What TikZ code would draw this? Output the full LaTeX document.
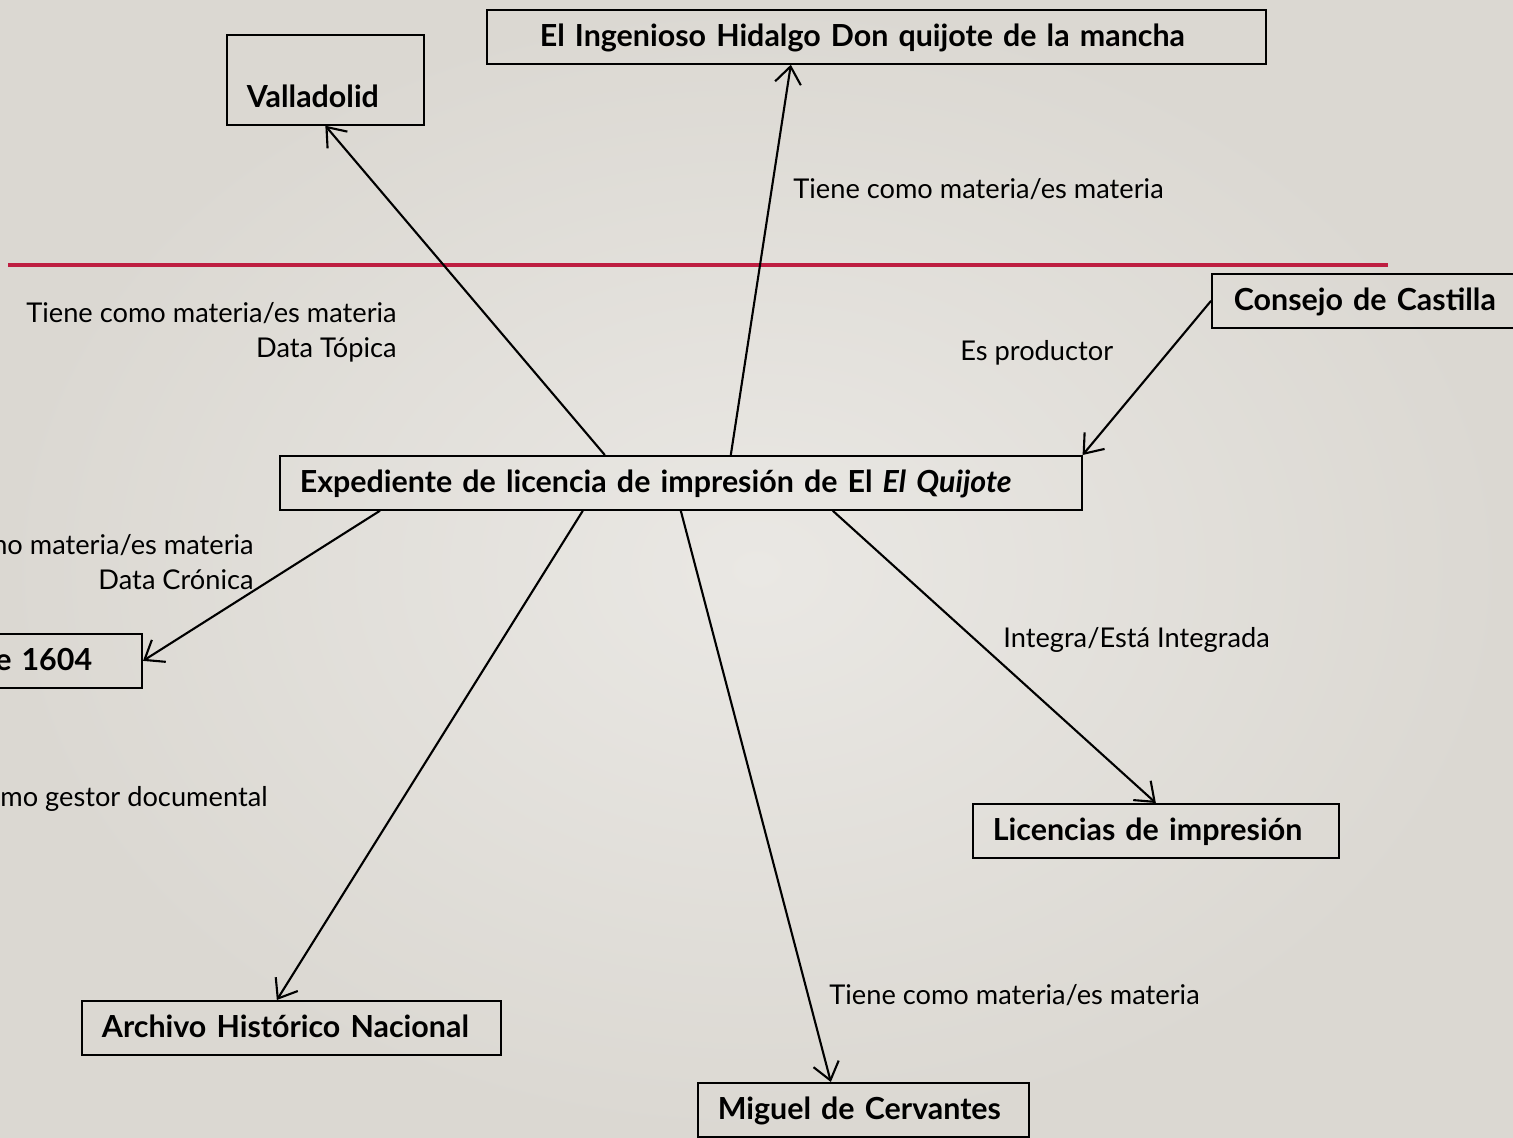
\documentclass[tikz,border=0pt]{standalone}
\usepackage{fontspec}
\setmainfont{Lato}
\usetikzlibrary{arrows.meta}
\definecolor{fondo}{RGB}{234,232,228}
\definecolor{borde}{RGB}{219,216,210}
\definecolor{rojo}{RGB}{190,30,65}

\begin{document}
\begin{tikzpicture}[x=0.02cm,y=-0.02cm,
  caja/.style={draw,line width=1pt,anchor=north west,align=left,inner xsep=0.4cm,inner ysep=0pt,
    text height=0.74cm,text depth=0.34cm,font=\fontsize{17.3}{20}\selectfont\bfseries},
  rel/.style={font=\fontsize{15.5}{19.9}\selectfont,inner sep=0pt},
  flecha/.style={-{Straight Barb[length=0.34cm,width=0.52cm]},line width=1.2pt}]
  \useasboundingbox (0,0) rectangle (1513,1138);
  \clip (0,0) rectangle (1513,1138);
  \shade[inner color=fondo,outer color=borde] (0,0) rectangle (1513,1138);
  \draw[rojo,line width=2.8pt] (8,265) -- (1388,265);

  % cajas
  \node[caja,text width=13.46cm,inner xsep=1.06cm] (quijote) at (486,9) {El Ingenioso Hidalgo Don quijote de la mancha};
  \node[caja,text width=3.14cm,text height=1.46cm] (valladolid) at (226,34) {Valladolid};
  \node[caja,text width=6cm,inner xsep=0.44cm] (consejo) at (1211,273) {Consejo de Castilla};
  \node[caja,text width=15.24cm] (expediente) at (279,455) {Expediente de licencia de impresión de El \textit{El Quijote}};
  \node[caja,anchor=north east,align=right,text width=4cm,inner xsep=1cm] (fecha) at (143,633) {de 1604};
  \node[caja,text width=7.58cm] (archivo) at (81,1000) {Archivo Histórico Nacional};
  \node[caja,text width=5.82cm] (cervantes) at (697,1082) {Miguel de Cervantes};
  \node[caja,text width=6.52cm] (licencias) at (972,803) {Licencias de impresión};

  % relaciones
  \draw[flecha] ([xshift=-1.52cm]expediente.north) -- (valladolid.south);
  \draw[flecha] ([xshift=1cm]expediente.north) -- ([xshift=-1.71cm]quijote.south);
  \draw[flecha] (consejo.west) -- (expediente.north east);
  \draw[flecha] ([xshift=2.02cm]expediente.south west) -- (fecha.east);
  \draw[flecha] ([xshift=-1.96cm]expediente.south) -- ([xshift=-0.29cm]archivo.north);
  \draw[flecha] (expediente.south) -- ([xshift=-0.65cm]cervantes.north);
  \draw[flecha] ([xshift=3.04cm]expediente.south) -- (licencias.north);

  \node[rel,anchor=base west] (r1) at (793,199) {Tiene como materia/es materia};
  \node[rel,anchor=base east,align=right] (r2) at (397,357) {Tiene como materia/es materia\\Data Tópica};
  \node[rel,anchor=base west] (r3) at (960,360) {Es productor};
  \node[rel,anchor=base east,align=right] (r4) at (254,589) {Tiene como materia/es materia\\Data Crónica};
  \node[rel,anchor=base east] (r5) at (268,806) {Tiene como gestor documental};
  \node[rel,anchor=base west] (r6) at (1003,647) {Integra/Está Integrada};
  \node[rel,anchor=base west] (r7) at (829,1004) {Tiene como materia/es materia};
\end{tikzpicture}
\end{document}
